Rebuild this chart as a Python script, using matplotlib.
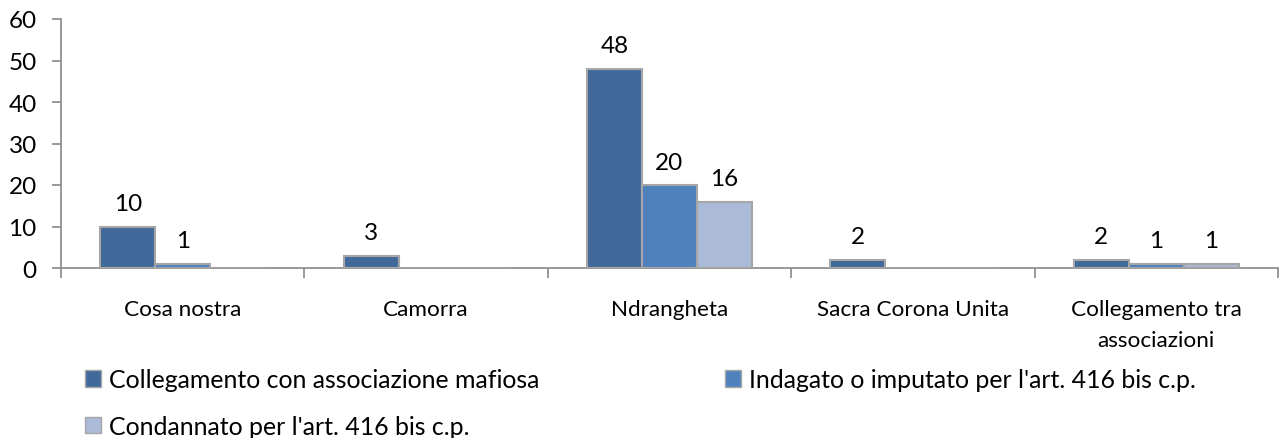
import matplotlib
matplotlib.use("Agg")
import matplotlib.pyplot as plt
import numpy as np
from matplotlib.patches import Patch

categories = ["Cosa nostra", "Camorra", "Ndrangheta", "Sacra Corona Unita", "Collegamento tra\nassociazioni"]
series_names = ["Collegamento con associazione mafiosa",
                "Indagato o imputato per l'art. 416 bis c.p.",
                "Condannato per l'art. 416 bis c.p."]
collegamento = [10, 3, 48, 2, 2]
indagato = [1, 0, 20, 0, 1]
condannato = [0, 0, 16, 0, 1]
yticks = [0, 10, 20, 30, 40, 50, 60]

colors = ["#416A9B", "#4F81BD", "#AABAD7"]
edge = "#A6A6A6"
FONT = "Lato"
FS = 16.2
FS_NUM = 17.5
FS_LEG = 17.9

plt.rcParams['font.family'] = [FONT, 'DejaVu Sans']

fig = plt.figure(figsize=(12.84, 4.39), dpi=100)
ax = fig.add_axes([61/1284, 1-269/439, 1217/1284, 249/439])

x = np.arange(len(categories))
w = 0.226
series = [collegamento, indagato, condannato]
for i, (vals, c) in enumerate(zip(series, colors)):
    xs = x + (i - 1) * w
    bars = ax.bar(xs, vals, width=w, color=c, edgecolor=edge, linewidth=1.5, zorder=3)
    for b, v in zip(bars, vals):
        if v > 0:
            ax.annotate(str(v), (b.get_x() + b.get_width()/2, v), xytext=(0, 9),
                        textcoords="offset points", ha="center", va="bottom",
                        fontsize=FS_NUM, color="black")

ax.set_xlim(-0.5, len(categories) - 0.5)
ax.set_ylim(0, 60)
ax.set_yticks(yticks)
ax.set_yticklabels([str(t) for t in yticks], fontsize=FS_NUM)
ax.set_xticks(np.arange(len(categories) + 1) - 0.5)
ax.set_xticklabels([])
ax.set_xticks(x, minor=True)
ax.set_xticklabels(categories, minor=True, fontsize=FS, linespacing=1.7)
ax.tick_params(axis='x', which='minor', length=0, pad=22)
ax.tick_params(axis='x', which='major', length=7, color="#888888", width=1.2)
ax.tick_params(axis='y', length=6.5, color="#888888", width=1.2, pad=11)
for s in ["top", "right"]:
    ax.spines[s].set_visible(False)
for s in ["left", "bottom"]:
    ax.spines[s].set_color("#888888")
    ax.spines[s].set_linewidth(1.2)

handles = [Patch(facecolor=c, edgecolor=edge, linewidth=1) for c in colors]
legA = fig.legend([handles[0], handles[2]], [series_names[0], series_names[2]],
                  loc="upper left", bbox_to_anchor=(75/1284, 1-359/439), frameon=False,
                  fontsize=FS_LEG, handlelength=0.65, handleheight=0.65, handletextpad=0.3,
                  labelspacing=0.95, borderaxespad=0)
legB = fig.legend([handles[1]], [series_names[1]],
                  loc="upper left", bbox_to_anchor=(715/1284, 1-359/439), frameon=False,
                  fontsize=FS_LEG, handlelength=0.65, handleheight=0.65, handletextpad=0.3,
                  borderaxespad=0)

fig.savefig("out.png", dpi=100)
